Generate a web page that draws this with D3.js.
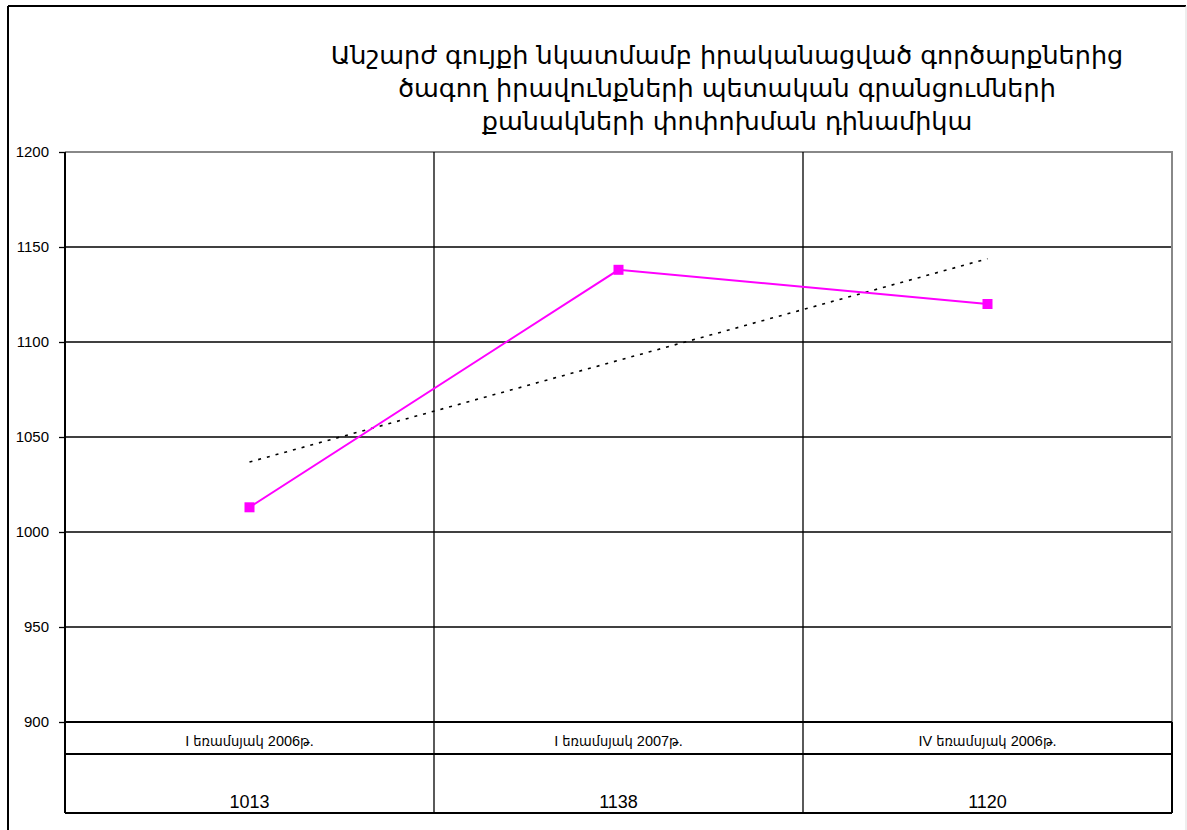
<!DOCTYPE html>
<html>
<head>
<meta charset="utf-8">
<script src="https://cdn.jsdelivr.net/npm/d3@7"></script>
<style>
  body { margin: 0; background: #fff; }
  svg { display: block; }
</style>
</head>
<body>
<div class="svg-container"></div>
<script>
// chart values
const categories = ['I եռամսյակ 2006թ.', 'I եռամսյակ 2007թ.', 'IV եռամսյակ 2006թ.'];
const values = [1013, 1138, 1120];
const yTicks = [900, 950, 1000, 1050, 1100, 1150, 1200];
const titleLines = [
  'Անշարժ գույքի նկատմամբ իրականացված գործարքներից',
  'ծագող իրավունքների պետական գրանցումների',
  'քանակների փոփոխման դինամիկա'
];

const outerWidth = 1187;
const outerHeight = 830;
const plot = { left: 65, right: 1172, top: 152, bottom: 722 };
const tableRow = 754;
const tableBottom = 813;

const svg = d3.select('.svg-container')
.append('svg')
.attr('width', outerWidth)
.attr('height', outerHeight);

// frame of the chart
svg.append('line').attr('x1', 8).attr('x2', 1186).attr('y1', 6).attr('y2', 6)
.attr('stroke', '#000').attr('stroke-width', 2);
svg.append('line').attr('x1', 8).attr('x2', 8).attr('y1', 6).attr('y2', outerHeight)
.attr('stroke', '#000').attr('stroke-width', 2);
svg.append('line').attr('x1', 1186).attr('x2', 1186).attr('y1', 6).attr('y2', outerHeight)
.attr('stroke', '#ddd').attr('stroke-width', 1);

// title
svg.append('text')
.attr('x', 727)
.attr('y', 64)
.attr('text-anchor', 'middle')
.style('font-family', '"DejaVu Sans", sans-serif')
.style('font-size', '25.5px')
.selectAll('tspan')
.data(titleLines)
.enter()
.append('tspan')
.attr('x', 727)
.attr('dy', (d, i) => i === 0 ? 0 : 33)
.text(d => d);

const xScale = d3.scaleBand()
.domain(categories)
.range([plot.left, plot.right])
.padding(0);

const yScale = d3.scaleLinear()
.domain([900, 1200])
.range([plot.bottom, plot.top]);

// horizontal gridlines
svg.selectAll('.hgrid')
.data(yTicks.filter(d => d > 900))
.enter()
.append('line')
.attr('class', 'hgrid')
.attr('x1', plot.left)
.attr('x2', plot.right)
.attr('y1', d => yScale(d))
.attr('y2', d => yScale(d))
.attr('stroke', d => d === 1200 ? '#888' : '#000')
.attr('stroke-width', d => d === 1200 ? 2 : 1.3);

// vertical gridlines between categories, running through the data table
svg.selectAll('.vgrid')
.data(categories.slice(1))
.enter()
.append('line')
.attr('class', 'vgrid')
.attr('x1', d => xScale(d))
.attr('x2', d => xScale(d))
.attr('y1', plot.top)
.attr('y2', tableBottom)
.attr('stroke', '#000')
.attr('stroke-width', 1.3);

// right border of the plot area
svg.append('line').attr('x1', plot.right).attr('x2', plot.right)
.attr('y1', plot.top - 1).attr('y2', plot.bottom)
.attr('stroke', '#888').attr('stroke-width', 2);
svg.append('line').attr('x1', plot.right).attr('x2', plot.right)
.attr('y1', plot.bottom).attr('y2', tableBottom)
.attr('stroke', '#000').attr('stroke-width', 2);

// table lines
[plot.bottom, tableRow, tableBottom].forEach(y => {
  svg.append('line').attr('x1', plot.left).attr('x2', plot.right)
  .attr('y1', y).attr('y2', y)
  .attr('stroke', '#000').attr('stroke-width', 2);
});

// y axis
const yAxis = d3.axisLeft(yScale)
.tickValues(yTicks)
.tickSize(6)
.tickPadding(10)
.tickFormat(d => d);

const yAxisG = svg.append('g')
.attr('transform', `translate(${plot.left}, 0)`)
.call(yAxis);
yAxisG.select('.domain').remove();
yAxisG.selectAll('.tick line').attr('stroke', '#000').attr('stroke-width', 1.3);
yAxisG.selectAll('.tick text')
.style('font-family', '"Liberation Sans", Arial, sans-serif')
.style('font-size', '15px')
.attr('fill', '#000');

svg.append('line').attr('x1', plot.left).attr('x2', plot.left)
.attr('y1', plot.top).attr('y2', tableBottom)
.attr('stroke', '#000').attr('stroke-width', 2);

// data table text
svg.selectAll('.cat-label')
.data(categories)
.enter()
.append('text')
.attr('class', 'cat-label')
.attr('x', d => xScale(d) + xScale.bandwidth() / 2)
.attr('y', 746)
.attr('text-anchor', 'middle')
.style('font-family', '"Liberation Sans", "DejaVu Sans Condensed", sans-serif')
.style('font-size', '14.5px')
.text(d => d);

svg.selectAll('.val-label')
.data(values)
.enter()
.append('text')
.attr('class', 'val-label')
.attr('x', (d, i) => xScale(categories[i]) + xScale.bandwidth() / 2)
.attr('y', 808)
.attr('text-anchor', 'middle')
.style('font-family', '"Liberation Sans", Arial, sans-serif')
.style('font-size', '18px')
.text(d => d);

// linear trend line (least squares over category index)
const n = values.length;
const xs = d3.range(n);
const xMean = d3.mean(xs);
const yMean = d3.mean(values);
const slope = d3.sum(xs, i => (i - xMean) * (values[i] - yMean)) / d3.sum(xs, i => (i - xMean) ** 2);
const intercept = yMean - slope * xMean;
const cx = i => xScale(categories[i]) + xScale.bandwidth() / 2;

svg.append('line')
.attr('x1', cx(0))
.attr('y1', yScale(intercept))
.attr('x2', cx(n - 1))
.attr('y2', yScale(intercept + slope * (n - 1)))
.attr('stroke', '#000')
.attr('stroke-width', 1.6)
.attr('stroke-dasharray', '3,6');

// series line and markers
const line = d3.line()
.x((d, i) => cx(i))
.y(d => yScale(d));

svg.append('path')
.datum(values)
.attr('d', line)
.attr('fill', 'none')
.attr('stroke', '#ff00ff')
.attr('stroke-width', 2);

svg.selectAll('.marker')
.data(values)
.enter()
.append('rect')
.attr('class', 'marker')
.attr('x', (d, i) => cx(i) - 5)
.attr('y', d => yScale(d) - 5)
.attr('width', 10)
.attr('height', 10)
.attr('fill', '#ff00ff');
</script>
</body>
</html>
